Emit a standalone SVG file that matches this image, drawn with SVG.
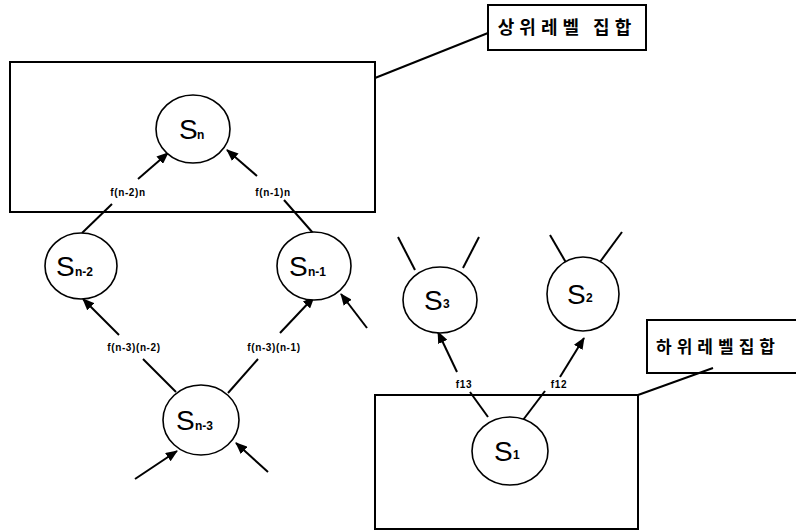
<svg xmlns="http://www.w3.org/2000/svg" width="796" height="531" viewBox="0 0 796 531">
<style>
.ln{stroke:#000;stroke-width:2;fill:none}
.ar{stroke:#000;stroke-width:2;fill:none;marker-end:url(#ah)}
.box{stroke:#000;stroke-width:2;fill:none}
.nd{stroke:#000;stroke-width:1.6;fill:#fff}
.S{font-family:"Liberation Sans",Arial,sans-serif;font-size:28px;fill:#000}
.sub{font-family:"Liberation Sans",Arial,sans-serif;font-size:12px;font-weight:bold;fill:#000}
.el{font-family:"Liberation Sans",Arial,sans-serif;font-size:10px;font-weight:bold;fill:#000;text-anchor:middle;letter-spacing:0.6px}
.kr{font-family:"Noto Sans CJK KR","Noto Sans",sans-serif;font-weight:bold;fill:#000;text-anchor:middle}
</style>
<defs>
<marker id="ah" markerUnits="userSpaceOnUse" markerWidth="12" markerHeight="10" refX="11" refY="5" orient="auto">
<path d="M0,0 L12,5 L0,10 Z" fill="#000"/>
</marker>
</defs>
<rect width="796" height="531" fill="#fff"/>

<g id="upper-set">
<rect class="box" x="10" y="62" width="365" height="150"/>
<line class="ln" x1="375" y1="78" x2="488" y2="33"/>
</g>
<g id="upper-label">
<rect class="box" x="488" y="5" width="158" height="45"/>
<text class="kr" x="567" y="34" font-size="18" letter-spacing="5">상위레벨 집합</text>
</g>

<g id="lower-set">
<rect class="box" x="375" y="395" width="263" height="134"/>
<line class="ln" x1="638" y1="395" x2="713" y2="368"/>
</g>
<g id="lower-label">
<rect class="box" x="647" y="320" width="155" height="53"/>
<text class="kr" x="718" y="353" font-size="17" letter-spacing="5">하위레벨집합</text>
</g>

<g id="connectors">
<!-- Sn-2 -> Sn -->
<line class="ln" x1="82" y1="233" x2="112" y2="204"/>
<line class="ar" x1="138" y1="179" x2="168" y2="153"/>
<text class="el" x="128" y="196">f(n-2)n</text>
<!-- Sn-1 -> Sn -->
<line class="ln" x1="313" y1="233" x2="284" y2="200"/>
<line class="ar" x1="257" y1="176" x2="227" y2="150"/>
<text class="el" x="273" y="196">f(n-1)n</text>
<!-- Sn-3 -> Sn-2 -->
<line class="ln" x1="176" y1="392" x2="143" y2="359"/>
<line class="ar" x1="119" y1="335" x2="83" y2="299"/>
<text class="el" x="134" y="351">f(n-3)(n-2)</text>
<!-- Sn-3 -> Sn-1 -->
<line class="ln" x1="228" y1="393" x2="258" y2="359"/>
<line class="ar" x1="280" y1="333" x2="314" y2="297"/>
<text class="el" x="274" y="351">f(n-3)(n-1)</text>
<!-- extra into Sn-1 -->
<line class="ar" x1="367" y1="328" x2="341" y2="294"/>
<!-- into Sn-3 -->
<line class="ar" x1="135" y1="479" x2="177" y2="451"/>
<line class="ar" x1="268" y1="472" x2="236" y2="443"/>
<!-- S1 -> S3 -->
<line class="ln" x1="488" y1="417" x2="470" y2="392"/>
<line class="ar" x1="457" y1="372" x2="438" y2="332"/>
<text class="el" x="464" y="388">f13</text>
<!-- S1 -> S2 -->
<line class="ln" x1="523" y1="420" x2="545" y2="391"/>
<line class="ar" x1="560" y1="377" x2="584" y2="338"/>
<text class="el" x="559" y="388">f12</text>
<!-- stubs above S3 and S2 -->
<line class="ln" x1="398" y1="237" x2="415" y2="270"/>
<line class="ln" x1="479" y1="237" x2="463" y2="268"/>
<line class="ln" x1="550" y1="235" x2="568" y2="266"/>
<line class="ln" x1="622" y1="232" x2="597" y2="266"/>
</g>

<g id="Sn">
<ellipse class="nd" cx="193" cy="129" rx="37" ry="34"/>
<text class="S" x="179" y="139">S</text><text class="sub" x="197" y="139">n</text>
</g>
<g id="Sn-2">
<ellipse class="nd" cx="81" cy="266" rx="36" ry="33"/>
<text class="S" x="56" y="276">S</text><text class="sub" x="75" y="276">n-2</text>
</g>
<g id="Sn-1">
<ellipse class="nd" cx="314" cy="266" rx="37" ry="34"/>
<text class="S" x="289" y="276">S</text><text class="sub" x="308" y="276">n-1</text>
</g>
<g id="Sn-3">
<ellipse class="nd" cx="201" cy="420" rx="38" ry="35"/>
<text class="S" x="176" y="430">S</text><text class="sub" x="195" y="430">n-3</text>
</g>
<g id="S3">
<ellipse class="nd" cx="440" cy="300" rx="37" ry="33"/>
<text class="S" x="424" y="310">S</text><text class="sub" x="443" y="308" font-size="10">3</text>
</g>
<g id="S2">
<ellipse class="nd" cx="583" cy="294" rx="36" ry="37"/>
<text class="S" x="567" y="304">S</text><text class="sub" x="586" y="302" font-size="10">2</text>
</g>
<g id="S1">
<ellipse class="nd" cx="510" cy="451" rx="38" ry="34"/>
<text class="S" x="494" y="461">S</text><text class="sub" x="513" y="459" font-size="10">1</text>
</g>
</svg>
